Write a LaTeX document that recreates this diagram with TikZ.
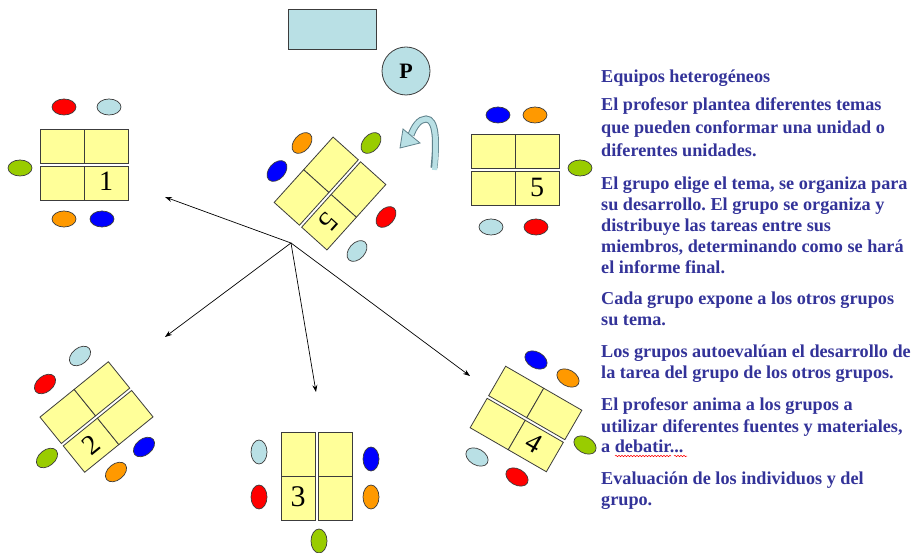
\documentclass[tikz,border=0pt]{standalone}
\usepackage{fontspec}
\setmainfont{Liberation Serif}
\usetikzlibrary{arrows.meta,shapes.geometric,decorations.pathmorphing}
\definecolor{deskyellow}{RGB}{255,255,153}
\definecolor{paleblue}{RGB}{185,224,229}
\definecolor{ovred}{RGB}{255,0,0}
\definecolor{ovgreen}{RGB}{153,204,0}
\definecolor{ovorange}{RGB}{255,153,0}
\definecolor{ovblue}{RGB}{0,0,255}
\definecolor{textblue}{RGB}{51,51,153}
\definecolor{outline}{RGB}{60,60,60}
\definecolor{arrowedge}{RGB}{95,130,140}
\frenchspacing
\begin{document}
\frenchspacing
\begin{tikzpicture}[x=1pt,y=-1pt,
  desk/.style={draw=outline,fill=deskyellow,line width=0.8pt},
  tablegroup/.pic={
    \draw[desk] (-44,-35.5) -- (0,-35.5) -- (0,-1.5) -- (-44,-1.5) -- cycle;
    \draw[desk] (0,-35.5) -- (44,-35.5) -- (44,-1.5) -- (0,-1.5) -- cycle;
    \draw[desk] (-44,1.5) -- (0,1.5) -- (0,35.5) -- (-44,35.5) -- cycle;
    \draw[desk] (0,1.5) -- (44,1.5) -- (44,35.5) -- (0,35.5) -- cycle;
  },
  ovl/.style={ellipse,draw=outline,line width=0.7pt,minimum width=24pt,minimum height=16pt,inner sep=0pt},
  num/.style={inner sep=0pt,font=\fontsize{28}{28}\selectfont},
  txt/.style={anchor=base west,inner sep=0pt,text=textblue,font=\fontsize{18.2}{20}\selectfont\bfseries},
  link/.style={draw=black,line width=0.7pt,-{Stealth[length=7pt,width=5pt]}},
  squig/.style={draw=red,line width=0.5pt,decorate,decoration={snake,amplitude=0.7pt,segment length=3pt}}
]
\useasboundingbox (0,0) rectangle (919,553);
\fill[white] (0,0) rectangle (919,553);

% board and teacher
\node[draw=outline,fill=paleblue,line width=0.8pt,minimum width=88pt,minimum height=40pt,inner sep=0pt] (board) at (332,29) {};
\node[circle,draw=outline,fill=paleblue,line width=0.8pt,minimum size=48pt,inner sep=0pt,font=\fontsize{22}{22}\selectfont\bfseries] (prof) at (406,71) {P};

% curved rotation arrow
\draw[line width=7pt,draw=arrowedge] (434,168) .. controls (437,140) and (436,119) .. (426,119) .. controls (419,119) and (414,127) .. (411,135);
\draw[line width=5pt,draw=paleblue] (434.5,170) .. controls (437,140) and (436,119) .. (426,119) .. controls (419,119) and (414,127) .. (411,135);
\filldraw[fill=paleblue,draw=arrowedge,line width=0.8pt] (400,148) -- (403,129) -- (420,143) -- cycle;

% group 1
\begin{scope}[shift={(84,165)}]
  \pic[transform shape] {tablegroup};
\end{scope}
\node[num] (n1) at (106,181) {1};
\node[ovl,fill=ovred] (g1a) at (64,107) {};
\node[ovl,fill=paleblue] (g1b) at (109,107) {};
\node[ovl,fill=ovgreen] (g1c) at (20,168) {};
\node[ovl,fill=ovorange] (g1d) at (64,219) {};
\node[ovl,fill=ovblue] (g1e) at (102,219) {};

% group 5 (right)
\begin{scope}[shift={(515,170)}]
  \pic[transform shape] {tablegroup};
\end{scope}
\node[num] (n5) at (537,187) {5};
\node[ovl,fill=ovblue] (g5a) at (498,115) {};
\node[ovl,fill=ovorange] (g5b) at (535,115) {};
\node[ovl,fill=ovgreen] (g5c) at (580,168) {};
\node[ovl,fill=paleblue] (g5d) at (491,227) {};
\node[ovl,fill=ovred] (g5e) at (536,227) {};

% group 5 (centre, rotated)
\begin{scope}[shift={(330,193.5)},rotate=228]
  \pic[transform shape] {tablegroup};
\end{scope}
\node[num,rotate=228] (n5c) at (329,222) {5};
\node[ovl,fill=ovorange,rotate=48] (gca) at (302,143) {};
\node[ovl,fill=ovgreen,rotate=48] (gcb) at (371,143) {};
\node[ovl,fill=ovblue,rotate=48] (gcc) at (277,171) {};
\node[ovl,fill=ovred,rotate=48] (gcd) at (386,217) {};
\node[ovl,fill=paleblue,rotate=48] (gce) at (357,251) {};

% group 2
\begin{scope}[shift={(96.5,417)},rotate=39]
  \pic[transform shape] {tablegroup};
\end{scope}
\node[num,rotate=39] (n2) at (91,445) {2};
\node[ovl,fill=paleblue,rotate=39] (g2a) at (80,356) {};
\node[ovl,fill=ovred,rotate=39] (g2b) at (45,384) {};
\node[ovl,fill=ovgreen,rotate=39] (g2c) at (47,458) {};
\node[ovl,fill=ovorange,rotate=39] (g2d) at (116,472) {};
\node[ovl,fill=ovblue,rotate=39] (g2e) at (144,447) {};

% group 3
\begin{scope}[shift={(316.5,476.5)},rotate=90]
  \pic[transform shape] {tablegroup};
\end{scope}
\node[num,font=\fontsize{30}{30}\selectfont] (n3) at (298,497) {3};
\node[ovl,fill=paleblue,rotate=90] (g3a) at (259,452) {};
\node[ovl,fill=ovred,rotate=90] (g3b) at (259,497) {};
\node[ovl,fill=ovblue,rotate=90] (g3c) at (371,459) {};
\node[ovl,fill=ovorange,rotate=90] (g3d) at (371,497) {};
\node[ovl,fill=ovgreen,rotate=90] (g3e) at (319,541) {};

% group 4
\begin{scope}[shift={(526,419)},rotate=-30]
  \pic[transform shape] {tablegroup};
\end{scope}
\node[num,rotate=-30] (n4) at (534,443) {4};
\node[ovl,fill=ovblue,rotate=-30] (g4a) at (536,360) {};
\node[ovl,fill=ovorange,rotate=-30] (g4b) at (568,378) {};
\node[ovl,fill=ovgreen,rotate=-30] (g4c) at (585,445) {};
\node[ovl,fill=paleblue,rotate=-30] (g4d) at (477,457) {};
\node[ovl,fill=ovred,rotate=-30] (g4e) at (517,477) {};

% connectors
\coordinate (hub) at (291,243);
\coordinate (e1) at (165,197);
\coordinate (e2) at (165,337);
\coordinate (e3) at (316,392);
\coordinate (e4) at (470,376);
\draw[link] (hub) -- (e1);
\draw[link] (hub) -- (e2);
\draw[link] (hub) -- (e3);
\draw[link] (hub) -- (e4);

% text
\node[txt] (t1) at (601,83) {Equipos heterogéneos};
\node[txt] (t2) at (601,111) {El profesor plantea diferentes temas};
\node[txt] (t3) at (601,134) {que pueden conformar una unidad o};
\node[txt] (t4) at (601,157) {diferentes unidades.};
\node[txt] (t5) at (601,190) {El grupo elige el tema, se organiza para};
\node[txt] (t6) at (601,211) {su desarrollo. El grupo se organiza y};
\node[txt] (t7) at (601,232) {distribuye las tareas entre sus};
\node[txt] (t8) at (601,253) {miembros, determinando como se hará};
\node[txt] (t9) at (601,274) {el informe final.};
\node[txt] (t10) at (601,305) {Cada grupo expone a los otros grupos};
\node[txt] (t11) at (601,326) {su tema.};
\node[txt] (t12) at (601,358) {Los grupos autoevalúan el desarrollo de};
\node[txt] (t13) at (601,379) {la tarea del grupo de los otros grupos.};
\node[txt] (t14) at (601,411) {El profesor anima a los grupos a};
\node[txt] (t15) at (601,432) {utilizar diferentes fuentes y materiales,};
\node[txt] (t16) at (601,452) {a debatir...};
\node[txt] (t17) at (601,484) {Evaluación de los individuos y del};
\node[txt] (t18) at (601,505) {grupo.};
\draw[squig] ([shift={(14,4)}]t16.base west) -- ([shift={(70,4)}]t16.base west);
\draw[squig] ([shift={(73,4)}]t16.base west) -- ([shift={(86,4)}]t16.base west);
\end{tikzpicture}
\end{document}
